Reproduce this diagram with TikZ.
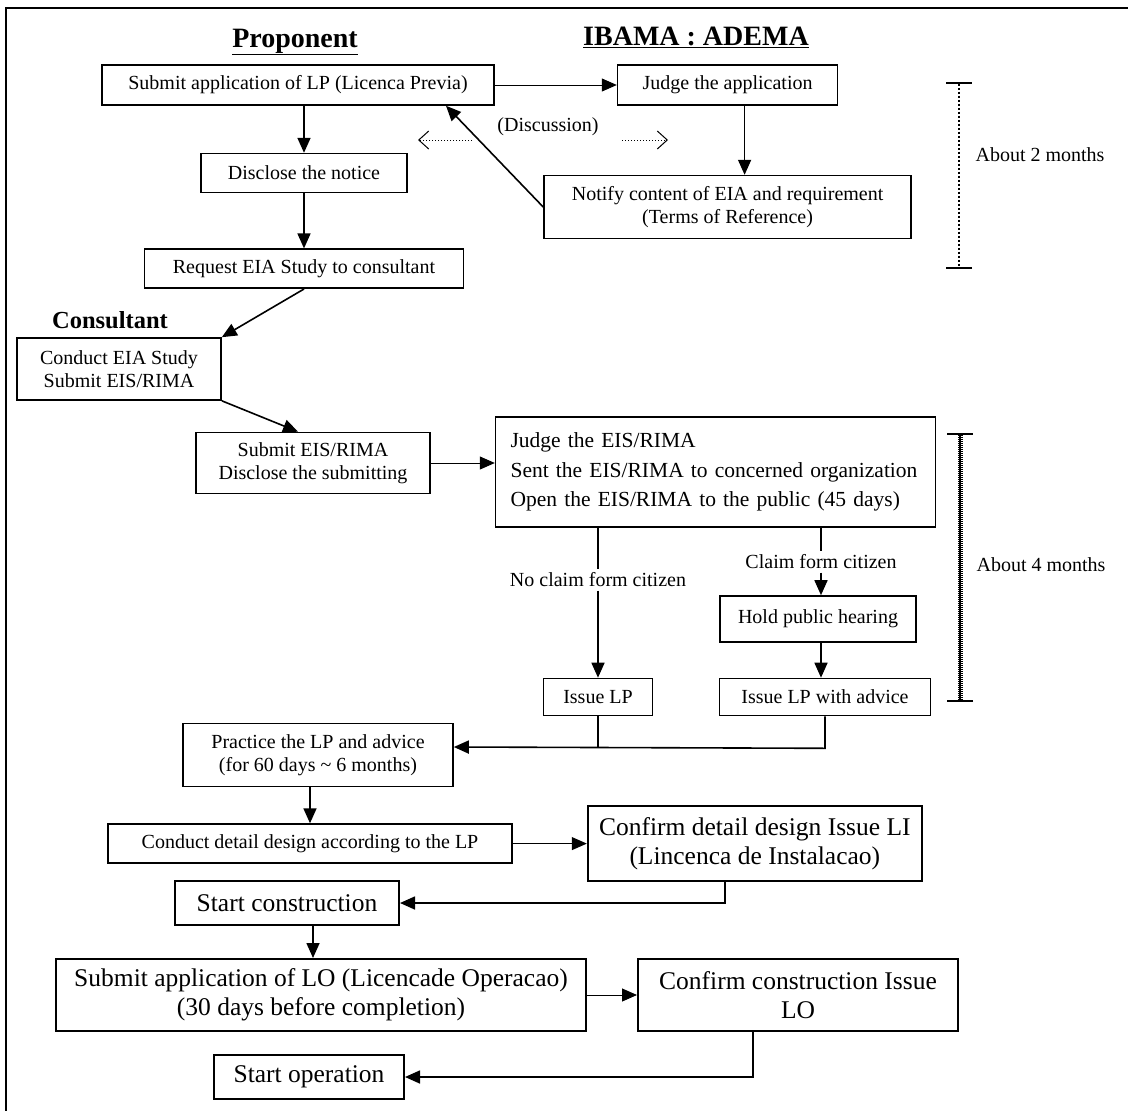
\documentclass[tikz,border=0pt]{standalone}
\usepackage{fontspec}
\setmainfont{Liberation Serif}
\usetikzlibrary{arrows.meta,positioning}

\newcommand{\boxfont}{\fontsize{20}{23.5}\selectfont}
\newcommand{\midfont}{\fontsize{21.5}{29.5}\selectfont}
\newcommand{\bigfont}{\fontsize{25.5}{29}\selectfont}
\newcommand{\headfont}{\fontsize{28}{32}\selectfont\bfseries}

\begin{document}
\begin{tikzpicture}[x=1pt, y=-1pt,
    procbox/.style={draw, line width=1.6pt, align=center, inner sep=2pt, font=\boxfont},
    bigbox/.style={procbox, line width=2pt, font=\bigfont},
    flow/.style={line width=1.6pt, -{Triangle[length=15pt,width=13pt]}},
    thinflow/.style={line width=1pt, -{Triangle[length=15pt,width=13pt]}},
    talk/.style={dotted, line width=1pt, -{Straight Barb[length=10pt,width=18pt,line width=1pt]}},
    span/.style={line width=2pt, {Bar[width=26pt]}-{Bar[width=26pt]}}]
    \useasboundingbox (0,0) rectangle (1128,1111);
    \draw[line width=2.5pt] (1128,8) -- (6,8) -- (6,1111);

    % headings
    \node[font=\headfont] (proponent) at (295,42) {\underline{Proponent}};
    \node[font=\headfont] (ibama) at (696,37) {\underline{IBAMA : ADEMA}};
    \node[font=\fontsize{24.5}{28}\selectfont\bfseries] (consultant) at (110,320) {Consultant};

    % first stage
    \node[procbox, minimum width=392pt, minimum height=40pt] (lp) at (298,85) {Submit application of LP (Licenca Previa)};
    \node[procbox, minimum width=220pt, minimum height=40pt, right=122pt of lp] (judgeapp) {Judge the application};
    \node[procbox, minimum width=206pt, minimum height=39pt, below=47pt of lp, xshift=6pt] (notice) {Disclose the notice};
    \node[procbox, minimum width=319pt, minimum height=39pt, below=55pt of notice] (request) {Request EIA Study to consultant};
    \node[procbox, minimum width=367pt, minimum height=63pt, below=69pt of judgeapp] (notify) {Notify content of EIA and requirement\\(Terms of Reference)};
    \node[font=\boxfont] (discuss) at (548,127) {(Discussion)};
    \coordinate (talkltip) at (418,140);
    \coordinate (talklend) at (472,140);
    \coordinate (talkrend) at (622,140);
    \coordinate (talkrtip) at (668,140);

    % study stage
    \node[procbox, minimum width=204pt, minimum height=62pt] (study) at (119,369) {Conduct EIA Study\\Submit EIS/RIMA};
    \node[procbox, minimum width=234pt, minimum height=61pt] (subeis) at (313,463) {Submit EIS/RIMA\\Disclose the submitting};
    \node[procbox, font=\midfont, align=left, text width=410pt, minimum width=440pt, minimum height=110pt, right=64pt of subeis, yshift=-9pt] (judgeeis) {Judge the EIS/RIMA\\Sent the EIS/RIMA to concerned organization\\Open the EIS/RIMA to the public (45 days)};
    \node[font=\boxfont] (noclaim) at (598,580) {No claim form citizen};
    \node[font=\boxfont] (claim) at (821,562) {Claim form citizen};
    \node[procbox, minimum width=196pt, minimum height=46pt] (hearing) at (818,619) {Hold public hearing};
    \node[procbox, minimum width=109pt, minimum height=37pt] (issuelp) at (598,697) {Issue LP};
    \node[procbox, minimum width=211pt, minimum height=37pt] (issueadv) at (825,697) {Issue LP with advice};

    % construction stage
    \node[procbox, minimum width=270pt, minimum height=63pt] (practice) at (318,755) {Practice the LP and advice\\(for 60 days \textasciitilde{} 6 months)};
    \node[procbox, minimum width=404pt, minimum height=39pt, below=36pt of practice, xshift=-8pt] (design) {Conduct detail design according to the LP};
    \node[bigbox, minimum width=334pt, minimum height=75pt, right=74pt of design] (confirmli) {Confirm detail design Issue LI\\(Lincenca de Instalacao)};
    \node[bigbox, minimum width=224pt, minimum height=44pt] (startcon) at (287,903) {Start construction};
    \node[bigbox, minimum width=530pt, minimum height=72pt] (submitlo) at (321,995) {Submit application of LO (Licencade Operacao)\\(30 days before completion)};
    \node[bigbox, minimum width=320pt, minimum height=72pt, right=50pt of submitlo] (confirmlo) {Confirm construction Issue\\LO};
    \node[bigbox, minimum width=190pt, minimum height=44pt] (startop) at (309,1077) {Start operation};

    % time spans
    \coordinate (twotop) at (959,82);
    \coordinate (twobot) at (959,269);
    \node[font=\boxfont] (twomonths) at (1040,155) {About 2 months};
    \coordinate (fourtop) at (960,433);
    \coordinate (fourbot) at (960,702);
    \node[font=\boxfont] (fourmonths) at (1041,565) {About 4 months};

    \draw[thinflow] (lp) -- (judgeapp);
    \draw[flow] (lp.south -| notice) -- (notice);
    \draw[flow] (notice) -- (request);
    \draw[flow] ([xshift=17pt]judgeapp.south) -- ([xshift=17pt]notify.north);
    \draw[flow] (notify.west) -- (lp.-8);
    \draw[talk] (talklend) -- (talkltip);
    \draw[talk] (talkrend) -- (talkrtip);
    \draw[flow] (request.south) -- (study.north east);
    \draw[flow] (study.south east) -- ([xshift=-15pt]subeis.north);
    \draw[thinflow] (subeis) -- (subeis -| judgeeis.west);
    \draw[line width=1.6pt] (judgeeis.south -| issuelp) -- (noclaim.north -| issuelp);
    \draw[flow] (noclaim.south -| issuelp) -- (issuelp);
    \draw[line width=1.6pt] (judgeeis.south -| claim) -- (claim.north);
    \draw[flow] (claim.south) -- (claim.south |- hearing.north);
    \draw[flow] (hearing.south -| claim) -- (issueadv.north -| claim);
    \draw[line width=1.6pt] (issuelp.south) -- ++(0,32);
    \draw[flow] (issueadv.south) -- ++(0,32) -- ([yshift=8pt]practice.east);
    \draw[flow] (practice.south -| design) -- (design);
    \draw[thinflow] (design) -- (confirmli);
    \draw[flow] ([xshift=-30pt]confirmli.south) |- (startcon.east);
    \draw[flow] ([xshift=26pt]startcon.south) -- ([xshift=26pt]startcon.south |- submitlo.north);
    \draw[thinflow] (submitlo) -- (confirmlo);
    \draw[flow] ([xshift=-45pt]confirmlo.south) |- (startop.east);
    \draw[span, dotted] (twotop) -- (twobot);
    \draw[line width=5pt, dash pattern=on 1pt off 1pt] (fourtop) -- (fourbot);
    \draw[span] (fourtop) -- (fourbot);
\end{tikzpicture}
\end{document}
